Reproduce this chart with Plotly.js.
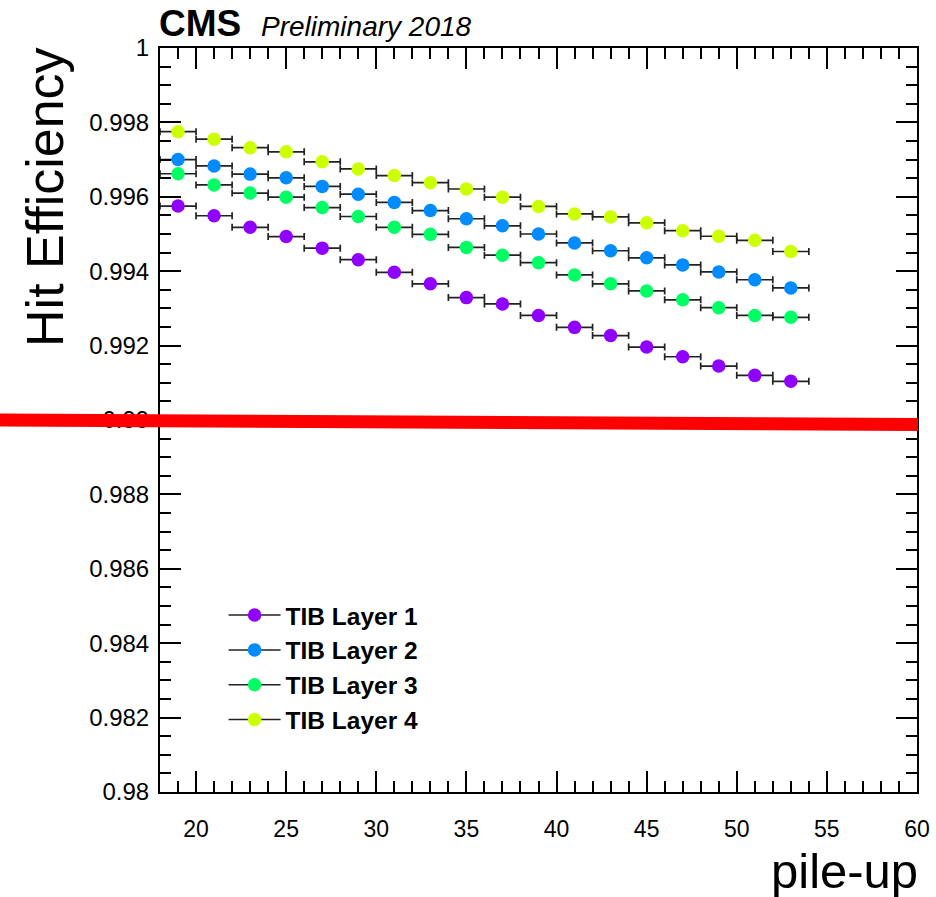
<!DOCTYPE html>
<html>
<head>
<meta charset="utf-8">
<script src="https://cdn.plot.ly/plotly-3.0.1.min.js"></script>
<style>
html,body{margin:0;padding:0;background:#fff;}
#chart{width:936px;height:897px;}
</style>
</head>
<body>
<div id="chart"></div>
<script>
// ---- data ----
var pileup = [19,21,23,25,27,29,31,33,35,37,39,41,43,45,47,49,51,53];
var binHalfWidth = [1,1,1,1,1,1,1,1,1,1,1,1,1,1,1,1,1,1];
var layer1 = [0.99575,0.99549,0.99518,0.99493,0.99462,0.99431,0.99397,0.99366,0.99329,0.99312,0.99281,0.99249,0.99227,0.99196,0.99170,0.99145,0.99120,0.99104];
var layer2 = [0.99700,0.99683,0.99661,0.99651,0.99628,0.99607,0.99585,0.99563,0.99541,0.99522,0.99500,0.99476,0.99455,0.99436,0.99417,0.99398,0.99377,0.99355];
var layer3 = [0.99662,0.99632,0.99610,0.99599,0.99571,0.99547,0.99518,0.99499,0.99464,0.99443,0.99423,0.99390,0.99366,0.99347,0.99323,0.99302,0.99281,0.99276];
var layer4 = [0.99775,0.99755,0.99732,0.99721,0.99694,0.99675,0.99657,0.99638,0.99621,0.99599,0.99574,0.99554,0.99546,0.99530,0.99509,0.99494,0.99483,0.99453];
var seriesNames = ["TIB Layer 1","TIB Layer 2","TIB Layer 3","TIB Layer 4"];
var seriesColors = ["#8f00ff","#008cff","#00ff64","#ccff00"];
var xTickVals = [20,25,30,35,40,45,50,55,60];
var xTickText = ["20","25","30","35","40","45","50","55","60"];
var yTickVals = [0.98,0.982,0.984,0.986,0.988,0.99,0.992,0.994,0.996,0.998,1];
var yTickText = ["0.98","0.982","0.984","0.986","0.988","0.99","0.992","0.994","0.996","0.998","1"];
var redLineY = [0.99, 0.98988];   // left end, right end

var FONT = "Liberation Sans, Arial, Helvetica, sans-serif";
var ys = [layer1, layer2, layer3, layer4];
var traces = [];
for (var i = 0; i < 4; i++) {
  traces.push({
    type: 'scatter', mode: 'markers', x: pileup, y: ys[i],
    name: seriesNames[i], showlegend: false,
    marker: {color: seriesColors[i], size: 13.5},
    error_x: {type: 'data', array: binHalfWidth, visible: true, color: '#222', thickness: 1.7, width: 3.5}
  });
}
for (var j = 0; j < 4; j++) {
  traces.push({
    type: 'scatter', mode: 'lines+markers', x: [null], y: [null],
    name: seriesNames[j], showlegend: true,
    marker: {color: seriesColors[j], size: 13.5},
    line: {color: '#222', width: 1.5}
  });
}

var axisCommon = {
  showgrid: false, zeroline: false, showline: true, linecolor: '#000', linewidth: 2,
  mirror: 'ticks', ticks: 'inside', tickcolor: '#000', tickwidth: 2, ticklen: 21
};

var layout = {
  width: 936, height: 897,
  margin: {l: 160, r: 19, t: 48, b: 105, pad: 0},
  paper_bgcolor: '#fff', plot_bgcolor: '#fff',
  font: {family: FONT, color: '#000'},
  showlegend: true,
  legend: {
    x: 0.084, y: 0.268, xanchor: 'left', yanchor: 'top',
    bgcolor: 'rgba(0,0,0,0)', borderwidth: 0,
    font: {family: FONT, size: 24.5, color: '#000', weight: 'bold'},
    itemwidth: 52, tracegroupgap: 0
  },
  xaxis: Object.assign({}, axisCommon, {
    range: [18, 60], tickmode: 'array', tickvals: xTickVals, ticktext: xTickText,
    tickfont: {family: FONT, size: 23, color: '#000'}, ticklabelstandoff: 15,
    minor: {dtick: 1, tick0: 0, ticks: 'inside', ticklen: 11, tickwidth: 2, tickcolor: '#000', showgrid: false}
  }),
  yaxis: Object.assign({}, axisCommon, {
    range: [0.98, 1], tickmode: 'array', tickvals: yTickVals, ticktext: yTickText,
    tickfont: {family: FONT, size: 24, color: '#000'}, ticklabelstandoff: 4,
    minor: {dtick: 0.0005, tick0: 0, ticks: 'inside', ticklen: 11, tickwidth: 2, tickcolor: '#000', showgrid: false}
  }),
  shapes: [{
    type: 'line', layer: 'above', xref: 'paper', yref: 'y',
    x0: -0.2114, x1: 1.0013, y0: redLineY[0], y1: redLineY[1],
    line: {color: '#ff0000', width: 13}
  }],
  annotations: [
    {text: 'Hit Efficiency', xref: 'paper', yref: 'paper', x: -0.152, y: 1.004,
     xanchor: 'center', yanchor: 'top', textangle: -90, showarrow: false,
     font: {family: FONT, size: 52, color: '#000'}},
    {text: 'pile-up', xref: 'paper', yref: 'paper', x: 1.002, y: -0.1435,
     xanchor: 'right', yanchor: 'bottom', showarrow: false, borderpad: 0,
     font: {family: FONT, size: 49, color: '#000'}},
    {text: '<b>CMS</b>', xref: 'paper', yref: 'paper', x: -0.004, y: 1.003,
     xanchor: 'left', yanchor: 'bottom', showarrow: false,
     font: {family: FONT, size: 37, color: '#000'}},
    {text: '<i>Preliminary 2018</i>', xref: 'paper', yref: 'paper', x: 0.131, y: 1.006,
     xanchor: 'left', yanchor: 'bottom', showarrow: false,
     font: {family: FONT, size: 28, color: '#000'}}
  ]
};

Plotly.newPlot('chart', traces, layout, {displayModeBar: false, staticPlot: true});
</script>
</body>
</html>
